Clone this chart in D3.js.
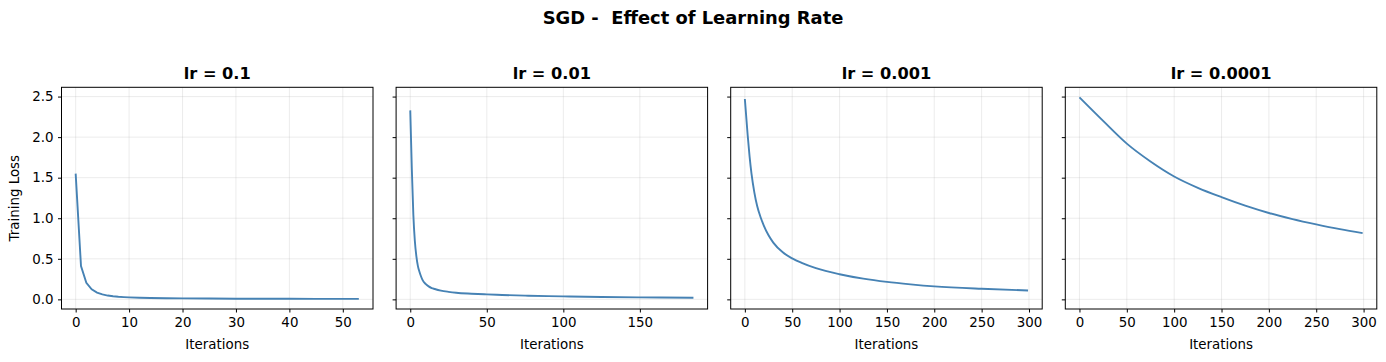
<!DOCTYPE html>
<html>

<head>
	<title>SGD - Effect of Learning Rate</title>
	<script src="https://cdn.jsdelivr.net/npm/d3@7/dist/d3.min.js"></script>
	<style>
		body {
			margin: 0;
			background: white;
		}

		text {
			font-family: "DejaVu Sans", sans-serif;
			fill: black;
		}

		.grid line {
			stroke: #b0b0b0;
			stroke-opacity: 0.3;
			stroke-width: 0.8px;
		}

		.loss {
			fill: none;
			stroke: #4682b4;
			stroke-width: 1.9px;
		}
	</style>
</head>

<body>
	<svg id="chart" width="1386" height="362"></svg>

	<script>
		// learning rates, one panel each
		var learningRates = ['0.1', '0.01', '0.001', '0.0001'];

		// lr = 0.1 (stopped early at 53 iterations)
		var iterLr1 = [0, 1, 2, 3, 4, 5, 6, 7, 8, 9, 10, 12, 14, 17, 20, 25, 30, 35, 40, 45, 53];
		var lossLr1 = [1.55, 0.41, 0.205, 0.123, 0.083, 0.061, 0.047, 0.038, 0.032, 0.028, 0.025, 0.020,
			0.017, 0.014, 0.012, 0.010, 0.0085, 0.0075, 0.0068, 0.0062, 0.0055];

		// lr = 0.01 (stopped at 185 iterations)
		var iterLr2 = [0, 1, 2, 3, 4, 5, 6, 7, 8, 10, 12, 14, 16, 20, 25, 30, 40, 50, 60, 75, 90, 100, 125, 150, 185];
		var lossLr2 = [2.33, 1.62, 1.05, 0.72, 0.53, 0.41, 0.34, 0.285, 0.24, 0.19, 0.16, 0.14, 0.128, 0.108,
			0.093, 0.082, 0.07, 0.061, 0.054, 0.046, 0.04, 0.037, 0.03, 0.025, 0.02];

		// lr = 0.001
		var iterLr3 = [0, 3, 5, 7, 10, 13, 17, 20, 25, 30, 40, 50, 60, 75, 100, 125, 150, 175, 200, 250, 299];
		var lossLr3 = [2.47, 2.02, 1.76, 1.55, 1.32, 1.15, 1.0, 0.91, 0.79, 0.70, 0.58, 0.505, 0.45, 0.385,
			0.31, 0.255, 0.215, 0.185, 0.16, 0.13, 0.11];

		// lr = 0.0001
		var iterLr4 = [0, 25, 50, 75, 100, 125, 150, 175, 200, 225, 250, 275, 299];
		var lossLr4 = [2.49, 2.20, 1.92, 1.70, 1.515, 1.375, 1.26, 1.155, 1.065, 0.99, 0.925, 0.866, 0.817];

		var xTicks = [
			[0, 10, 20, 30, 40, 50],
			[0, 50, 100, 150],
			[0, 50, 100, 150, 200, 250, 300],
			[0, 50, 100, 150, 200, 250, 300]
		];
		var yTicks = [0, 0.5, 1.0, 1.5, 2.0, 2.5];

		var iters = [iterLr1, iterLr2, iterLr3, iterLr4];
		var losses = [lossLr1, lossLr2, lossLr3, lossLr4];

		var svg = d3.select('#chart');

		var left0 = 61.5, panelW = 311.5, step = 334.6,
			plotTop = 87.3, plotBottom = 309;

		// matplotlib style 5% margins
		function padded(lo, hi) {
			var r = hi - lo;
			return [lo - 0.05 * r, hi + 0.05 * r];
		}

		var allLoss = d3.merge(losses);
		var y = d3.scaleLinear()
			.domain(padded(d3.min(allLoss), d3.max(allLoss)))
			.range([plotBottom, plotTop]);

		svg.append('text')
			.attr('x', 693)
			.attr('y', 24)
			.attr('text-anchor', 'middle')
			.style('font-size', '17.9px')
			.style('font-weight', 'bold')
			.style('white-space', 'pre')
			.text('SGD -  Effect of Learning Rate');

		learningRates.forEach(function (lr, i) {
			var x0 = left0 + i * step;
			var data = iters[i].map(function (it, j) { return { it: it, loss: losses[i][j] }; });

			var x = d3.scaleLinear()
				.domain(padded(d3.min(iters[i]), d3.max(iters[i])))
				.range([x0, x0 + panelW]);

			var g = svg.append('g');

			// grid
			var grid = g.append('g').attr('class', 'grid');
			grid.selectAll('.vx')
				.data(xTicks[i])
				.enter()
				.append('line')
				.attr('x1', d => x(d)).attr('x2', d => x(d))
				.attr('y1', plotTop).attr('y2', plotBottom);
			grid.selectAll('.hy')
				.data(yTicks)
				.enter()
				.append('line')
				.attr('x1', x0).attr('x2', x0 + panelW)
				.attr('y1', d => y(d)).attr('y2', d => y(d));

			// loss curve
			var line = d3.line()
				.x(d => x(d.it))
				.y(d => y(d.loss))
				.curve(i == 0 ? d3.curveLinear : d3.curveMonotoneX);

			g.append('path')
				.datum(data)
				.attr('class', 'loss')
				.attr('d', line);

			// axes
			var xAxis = g.append('g')
				.attr('transform', 'translate(0,' + plotBottom + ')')
				.call(d3.axisBottom(x).tickValues(xTicks[i]).tickSize(3.5).tickPadding(4.5).tickFormat(d3.format('d')));
			var yAxis = g.append('g')
				.attr('transform', 'translate(' + x0 + ',0)')
				.call(d3.axisLeft(y).tickValues(yTicks).tickSize(3.5).tickPadding(4.5).tickFormat(i == 0 ? d3.format('.1f') : ''));

			[xAxis, yAxis].forEach(function (a) {
				a.select('.domain').remove();
				a.selectAll('.tick line').attr('stroke', 'black').attr('stroke-width', 1);
				a.selectAll('.tick text')
					.style('font-size', '13.4px')
					.style('font-family', '"DejaVu Sans", sans-serif')
					.attr('fill', 'black');
			});

			// frame
			g.append('rect')
				.attr('x', x0)
				.attr('y', plotTop)
				.attr('width', panelW)
				.attr('height', plotBottom - plotTop)
				.attr('fill', 'none')
				.attr('stroke', 'black')
				.attr('stroke-width', 1);

			g.append('text')
				.attr('x', x0 + panelW / 2)
				.attr('y', 79)
				.attr('text-anchor', 'middle')
				.style('font-size', '16.2px')
				.style('font-weight', 'bold')
				.text('lr = ' + lr);

			g.append('text')
				.attr('x', x0 + panelW / 2)
				.attr('y', 349)
				.attr('text-anchor', 'middle')
				.style('font-size', '13.4px')
				.text('Iterations');

			if (i == 0) {
				g.append('text')
					.attr('transform', 'translate(19,' + ((plotTop + plotBottom) / 2) + ') rotate(-90)')
					.attr('text-anchor', 'middle')
					.style('font-size', '13.4px')
					.text('Training Loss');
			}
		});
	</script>
</body>

</html>
